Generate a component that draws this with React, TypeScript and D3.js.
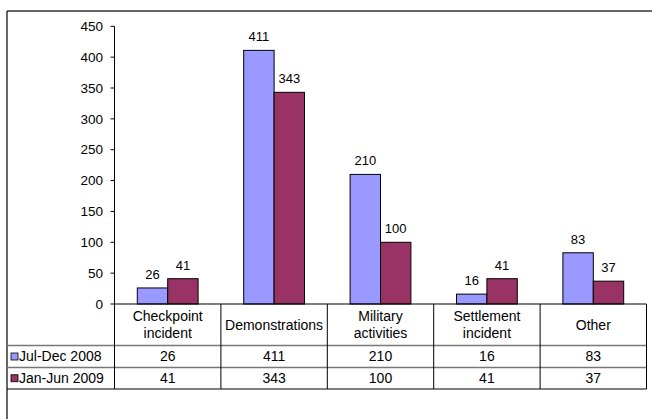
import React from "react";
import * as d3 from "d3";

const categories: string[][] = [
  ["Checkpoint", "incident"],
  ["Demonstrations"],
  ["Military", "activities"],
  ["Settlement", "incident"],
  ["Other"],
];
const seriesNames = ["Jul-Dec 2008", "Jan-Jun 2009"];
const julDec2008 = [26, 411, 210, 16, 83];
const janJun2009 = [41, 343, 100, 41, 37];
const seriesValues = [julDec2008, janJun2009];
const seriesColors = ["#9999FF", "#993366"];
const yTicks = [0, 50, 100, 150, 200, 250, 300, 350, 400, 450];

const W = 652;
const H = 419;
const FONT = "'Liberation Sans', Arial, sans-serif";

export default function App() {
  const plotLeft = 114.5;
  const plotRight = 646.5;
  const y0 = 304;
  const yTop = 26.3;
  const headerBottom = 345.5;
  const row1Bottom = 367.5;
  const row2Bottom = 389;
  const tableLeft = 7;

  const x = d3
    .scaleBand<number>()
    .domain(categories.map((_, i) => i))
    .range([plotLeft, plotRight])
    .padding(0);
  const x1 = d3
    .scaleBand<number>()
    .domain(seriesNames.map((_, i) => i))
    .range([0, x.bandwidth()])
    .paddingInner(0)
    .paddingOuter(0.75);
  const y = d3.scaleLinear().domain([0, 450]).range([y0, yTop]);

  const rowCenters = [(headerBottom + row1Bottom) / 2, (row1Bottom + row2Bottom) / 2];

  return (
    <div style={{ position: "fixed", left: 0, top: 0 }}>
      <svg width={W} height={H} style={{ display: "block", background: "#fff" }} fontFamily={FONT}>
        <rect x={0} y={0} width={W} height={H} fill="#fff" />
        {/* outer chart frame */}
        <line x1={tableLeft} x2={W} y1={11} y2={11} stroke="#333" strokeWidth={1.5} />
        <line x1={tableLeft} x2={tableLeft} y1={11} y2={H} stroke="#333" strokeWidth={1.5} />

        {/* y axis */}
        <line x1={plotLeft} x2={plotLeft} y1={y(450)} y2={y0} stroke="#000" strokeWidth={1} />
        {yTicks.map((t) => (
          <g key={t}>
            <line x1={plotLeft - 4} x2={plotLeft} y1={y(t)} y2={y(t)} stroke="#000" />
            <text x={103} y={y(t)} dy="0.35em" textAnchor="end" fontSize={13.5} fill="#000">
              {t}
            </text>
          </g>
        ))}

        {/* bars */}
        {categories.map((_, ci) =>
          seriesValues.map((vals, si) => {
            const bx = (x(ci) as number) + (x1(si) as number);
            const bw = x1.bandwidth();
            const v = vals[ci];
            return (
              <g key={`${ci}-${si}`}>
                <rect
                  x={bx}
                  y={y(v)}
                  width={bw}
                  height={y0 - y(v)}
                  fill={seriesColors[si]}
                  stroke="#000"
                  strokeWidth={1}
                />
                <text x={bx + bw / 2} y={y(v) - 9} textAnchor="middle" fontSize={13} fill="#000">
                  {v}
                </text>
              </g>
            );
          })
        )}

        {/* data table */}
        <line x1={plotLeft} x2={plotRight} y1={y0} y2={y0} stroke="#000" strokeWidth={1.2} />
        <line x1={tableLeft} x2={plotRight} y1={headerBottom} y2={headerBottom} stroke="#777" strokeWidth={1.5} />
        <line x1={tableLeft} x2={plotRight} y1={row1Bottom} y2={row1Bottom} stroke="#777" strokeWidth={1.5} />
        <line x1={tableLeft} x2={plotRight} y1={row2Bottom} y2={row2Bottom} stroke="#000" strokeWidth={1} />
        {categories.map((_, ci) => (
          <line
            key={ci}
            x1={x(ci) as number}
            x2={x(ci) as number}
            y1={y0}
            y2={row2Bottom}
            stroke="#000"
          />
        ))}
        <line x1={plotRight} x2={plotRight} y1={y0} y2={row2Bottom} stroke="#000" />

        {categories.map((lines, ci) => {
          const cx = (x(ci) as number) + x.bandwidth() / 2;
          const mid = (y0 + headerBottom) / 2;
          const lh = 17;
          const start = mid - ((lines.length - 1) * lh) / 2;
          return (
            <text key={ci} textAnchor="middle" fontSize={14} fill="#000">
              {lines.map((l, li) => (
                <tspan key={li} x={cx} y={start + li * lh} dy="0.35em">
                  {l}
                </tspan>
              ))}
            </text>
          );
        })}

        {seriesNames.map((name, si) => (
          <g key={name}>
            <rect
              x={11}
              y={rowCenters[si] - 3.5}
              width={7}
              height={7}
              fill={seriesColors[si]}
              stroke="#000"
              strokeWidth={0.8}
            />
            <text x={19} y={rowCenters[si]} dy="0.35em" fontSize={14} fill="#000">
              {name}
            </text>
            {seriesValues[si].map((v, ci) => (
              <text
                key={ci}
                x={(x(ci) as number) + x.bandwidth() / 2}
                y={rowCenters[si]}
                dy="0.35em"
                textAnchor="middle"
                fontSize={14}
                fill="#000"
              >
                {v}
              </text>
            ))}
          </g>
        ))}
      </svg>
    </div>
  );
}
